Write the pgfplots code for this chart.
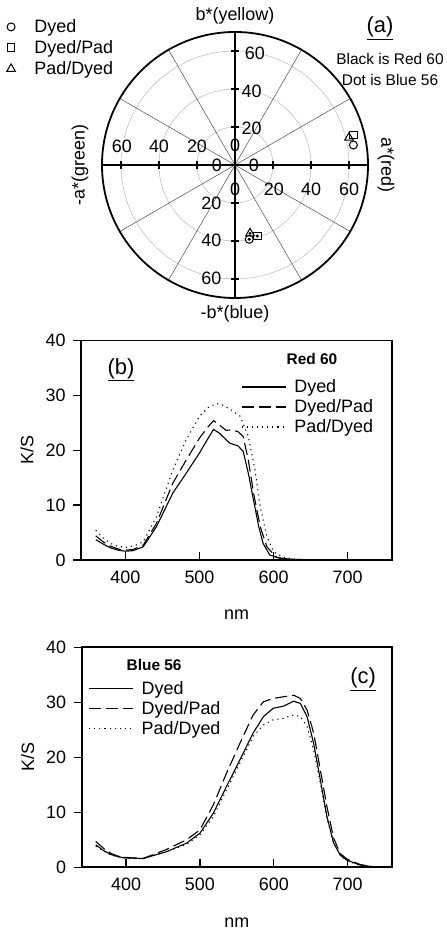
\documentclass[border=0pt]{standalone}
\usepackage{fontspec}
\setmainfont{Liberation Sans}
\usepackage{pgfplots}
\pgfplotsset{compat=1.18}

\newcommand{\fbig}{\fontsize{18}{21}\selectfont}
\newcommand{\fmid}{\fontsize{15.5}{18}\selectfont}

\pgfplotsset{
  ksplot/.style={
    scale only axis,
    xmin=340, xmax=760, ymin=0, ymax=40,
    xtick={400,500,600,700}, ytick={0,10,20,30,40},
    xtick align=inside, ytick align=outside,
    xtick pos=bottom, ytick pos=left,
    major tick length=8bp,
    axis line style={line width=1.8bp},
    tick style={line width=1.3bp, black},
    ticklabel style={font=\fbig},
    xticklabel style={yshift=-7bp},
    yticklabel style={xshift=-4bp},
    label style={font=\fbig},
    /pgf/number format/assume math mode=true,
    xlabel=nm, ylabel=K/S,
    xlabel style={at={(axis description cs:0.5,-0.25)}, anchor=center},
    ylabel style={at={(axis description cs:-0.174,0.5)}, anchor=center},
    legend cell align=left,
    legend style={draw=none, fill=none, font=\fbig, row sep=1.5bp,
      /tikz/every odd column/.append style={column sep=6bp}},
    legend image code/.code={\draw[#1] (0bp,0bp) -- (44bp,0bp);},
    every axis plot/.append style={black, line width=1.1bp},
  },
  dyed/.style={solid},
  dyedpad/.style={dash pattern=on 12bp off 5bp},
  paddyed/.style={dash pattern=on 1.1bp off 4bp},
}

\begin{document}
\begin{tikzpicture}
\path[use as bounding box] (0,0) rectangle (447bp,934bp);

% (a) CIELAB a*/b* plane
\begin{axis}[
  at={(235bp,769bp)}, anchor=center,
  scale only axis, width=266bp, height=266bp,
  xmin=-70, xmax=70, ymin=-70, ymax=70,
  axis lines=none, clip=false,
  legend style={draw=none, fill=none, font=\fbig, at={(axis description cs:-0.37,1.062)}, anchor=north west, row sep=2.5bp,
    /tikz/every odd column/.append style={column sep=17bp}},
  legend image code/.code={\draw[#1, mark repeat=2, mark phase=2] plot coordinates {(0bp,0bp) (12bp,0bp) (24bp,0bp)};},
  legend cell align=left,
]
\draw[gray!55, line width=0.5bp] (axis cs:0,0) circle[radius=20];
\draw[gray!55, line width=0.5bp] (axis cs:0,0) circle[radius=40];
\draw[gray!55, line width=0.5bp] (axis cs:0,0) circle[radius=60];
\pgfplotsinvokeforeach{30,60,120,150,210,240,300,330}{
  \draw[black!70, line width=0.5bp] (axis cs:0,0) -- (axis cs:{70*cos(#1)},{70*sin(#1)});
}
\draw[line width=1.8bp] (axis cs:0,0) circle[radius=70];
\draw[line width=1.5bp] (axis cs:-70,0) -- (axis cs:70,0);
\draw[line width=1.5bp] (axis cs:0,-70) -- (axis cs:0,70);
\pgfplotsinvokeforeach{-60,-40,-20,20,40,60}{
  \draw[line width=1.3bp] (axis cs:#1,-2.3) -- (axis cs:#1,2.3);
  \draw[line width=1.3bp] (axis cs:-2.3,#1) -- (axis cs:2.3,#1);
}
% tick labels
\node[font=\fbig] at (axis cs:-59.6,9.6) {60};
\node[font=\fbig] at (axis cs:-40,9.6) {40};
\node[font=\fbig] at (axis cs:-20,9.6) {20};
\node[font=\fbig] at (axis cs:0,10.5) {0};
\node[font=\fbig] at (axis cs:-9.6,0) {0};
\node[font=\fbig] at (axis cs:9.9,0) {0};
\node[font=\fbig] at (axis cs:0,-13) {0};
\node[font=\fbig] at (axis cs:20.5,-13) {20};
\node[font=\fbig] at (axis cs:40,-13) {40};
\node[font=\fbig] at (axis cs:60,-13) {60};
\node[font=\fbig] at (axis cs:8.8,19.3) {20};
\node[font=\fbig] at (axis cs:8.8,39) {40};
\node[font=\fbig] at (axis cs:10.5,58.8) {60};
\node[font=\fbig] at (axis cs:-12.4,-20.2) {20};
\node[font=\fbig] at (axis cs:-12.4,-39.5) {40};
\node[font=\fbig] at (axis cs:-12.4,-59.7) {60};
% axis names
\node[font=\fbig] at (axis cs:0,78.6) {b*(yellow)};
\node[font=\fbig] at (axis cs:0,-78.5) {-b*(blue)};
\node[font=\fbig, rotate=90] at (axis cs:-81.6,0) {-a*(green)};
\node[font=\fbig, rotate=-90] at (axis cs:79.5,0) {a*(red)};
\node[font=\fontsize{22}{24}\selectfont] at (axis cs:76.3,72) {\underline{(a)}};
\node[font=\fmid] at (axis cs:81.6,55.8) {Black is Red 60};
\node[font=\fmid] at (axis cs:81.6,44.7) {Dot is Blue 56};
% data: Red 60 then Blue 56
\addplot[only marks, mark=o, mark size=4bp, mark options={line width=1bp}] coordinates {(62.3,10.5) (7.5,-39.1)};
\addlegendentry{Dyed}
\addplot[only marks, mark=square, mark size=3.9bp, mark options={line width=1bp}] coordinates {(62.3,15.8) (11.7,-37.4)};
\addlegendentry{Dyed/Pad}
\addplot[only marks, mark=triangle, mark size=5bp, mark options={line width=1bp}] coordinates {(60.0,14.4) (7.9,-36.0)};
\addlegendentry{Pad/Dyed}
\addplot[forget plot, only marks, mark=*, mark size=1.3bp] coordinates {(7.5,-39.1) (11.7,-37.4) (7.9,-36.0)};
\end{axis}

% (b) Red 60
\begin{axis}[ksplot,
  at={(81bp,374bp)}, anchor=south west, width=311bp, height=219.5bp,
  legend style={at={(axis description cs:0.505,0.84)}, anchor=north west},
]
\addplot[dyed] coordinates {(360,3.7)(370,2.9)(380,2.2)(390,1.8)(400,1.6)(410,1.7)(424,2.4)(442,6.1)(464,12.2)(482,15.8)(500,19.5)(510,21.8)(519,23.8)(527,23.1)(536,21.9)(541,21.3)(552,20.8)(559,19.8)(566,15.8)(573,10.9)(580,6.1)(586,3.0)(595,0.9)(609,0.3)(630,0.1)(680,0)(740,0)};
\addlegendentry{Dyed}
\addplot[dyedpad] coordinates {(360,4.4)(370,3.3)(380,2.5)(390,2.0)(400,1.8)(410,1.9)(424,2.7)(442,6.7)(464,14.0)(482,18.2)(500,22.2)(510,24.0)(519,25.4)(527,24.6)(536,23.6)(541,23.7)(552,23.4)(559,22.5)(566,18.2)(573,12.2)(582,6.1)(591,2.4)(604,0.5)(620,0.1)(680,0)(740,0)};
\addlegendentry{Dyed/Pad}
\addplot[paddyed] coordinates {(360,5.4)(370,4.0)(380,3.0)(390,2.5)(401,2.3)(412,2.6)(424,3.3)(442,7.9)(464,16.4)(482,21.9)(500,26.2)(512,27.8)(523,28.5)(532,28.2)(541,27.5)(555,26.2)(566,22.5)(575,16.4)(582,9.7)(591,4.3)(600,1.5)(613,0.5)(630,0.1)(680,0)(740,0)};
\addlegendentry{Pad/Dyed}
\node[font=\fontsize{22}{24}\selectfont] at (axis cs:394,34.7) {\underline{(b)}};
\node[font=\fmid\bfseries] at (axis cs:652,36.7) {Red 60};
\end{axis}

% (c) Blue 56
\begin{axis}[ksplot,
  at={(81.7bp,66.7bp)}, anchor=south west, width=310.3bp, height=220bp,
  legend style={at={(axis description cs:0.012,0.865)}, anchor=north west},
]
\addplot[dyed] coordinates {(359,4.1)(370,3.0)(380,2.3)(390,1.9)(400,1.7)(423,1.6)(454,2.8)(482,4.4)(500,6.2)(518,9.8)(536,14.7)(554,19.5)(572,24.4)(586,27.4)(599,28.9)(613,29.3)(627,30.2)(636,29.8)(645,27.4)(654,22.5)(663,15.9)(672,9.2)(681,4.4)(690,2.2)(699,1.3)(717,0.4)(735,0.1)};
\addlegendentry{Dyed}
\addplot[dyedpad] coordinates {(359,4.7)(370,3.4)(380,2.5)(390,2.0)(400,1.8)(423,1.6)(454,3.2)(482,5.0)(500,6.8)(518,11.3)(536,17.1)(554,22.5)(572,27.7)(586,30.1)(599,30.7)(613,31.0)(627,31.3)(636,30.7)(645,28.6)(654,24.4)(663,17.7)(672,11.0)(681,5.3)(690,2.5)(699,1.5)(717,0.5)(735,0.1)};
\addlegendentry{Dyed/Pad}
\addplot[paddyed] coordinates {(359,3.8)(380,2.2)(400,1.6)(423,1.6)(454,2.8)(482,4.2)(500,5.9)(518,9.2)(536,14.1)(554,18.9)(572,23.8)(586,25.9)(599,26.8)(613,27.1)(627,27.7)(636,27.4)(645,25.6)(654,21.3)(663,15.3)(672,8.9)(681,4.4)(690,2.2)(699,1.2)(717,0.3)(735,0.1)};
\addlegendentry{Pad/Dyed}
\node[font=\fmid\bfseries] at (axis cs:438,36.8) {Blue 56};
\node[font=\fontsize{22}{24}\selectfont] at (axis cs:721,34.2) {\underline{(c)}};
\end{axis}
\end{tikzpicture}
\end{document}
